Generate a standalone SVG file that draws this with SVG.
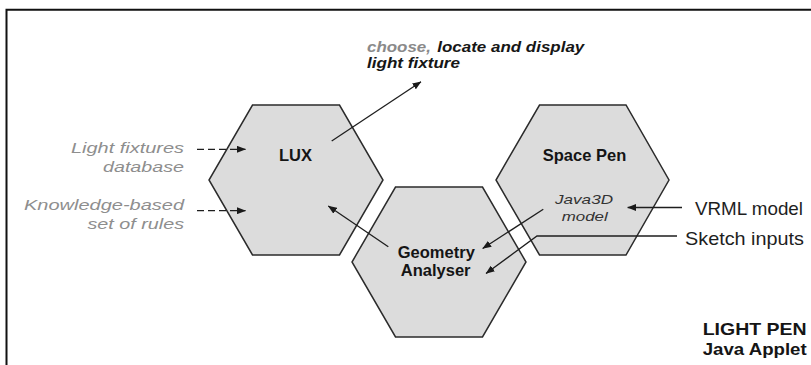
<svg xmlns="http://www.w3.org/2000/svg" width="811" height="365" viewBox="0 0 811 365">
  <defs>
    <marker id="arrow" markerUnits="userSpaceOnUse" markerWidth="9" markerHeight="7" refX="8.5" refY="3.5" orient="auto">
      <path d="M0,0 L9,3.5 L0,7 Z" fill="#1a1a1a"/>
    </marker>
  </defs>
  <style>
    .hex { fill: #dcdcdc; stroke: #2b2b2b; stroke-width: 1.5; stroke-linejoin: miter; }
    .title { font-family: "Liberation Sans", Arial, sans-serif; font-weight: bold; font-size: 16.5px; fill: #151515; text-anchor: middle; }
    .note { font-family: "Liberation Sans", Arial, sans-serif; font-style: italic; font-size: 15.5px; fill: #8e8e8e; }
    .inner { font-family: "Liberation Sans", Arial, sans-serif; font-style: italic; font-size: 13.5px; fill: #333333; }
    .plain { font-family: "Liberation Sans", Arial, sans-serif; font-size: 18.5px; fill: #1e1e1e; }
    .task { font-family: "Liberation Sans", Arial, sans-serif; font-style: italic; font-weight: bold; font-size: 15px; fill: #161616; }
    .task-grey { fill: #8a8a8a; }
    .badge { font-family: "Liberation Sans", Arial, sans-serif; font-weight: bold; font-size: 17px; fill: #151515; }
    .link { fill: none; stroke: #1e1e1e; stroke-width: 1.3; }
    .dashed { stroke-dasharray: 7 4; }
  </style>

  <!-- frame -->
  <path d="M6.5,365 V9.7 H811" fill="none" stroke="#111" stroke-width="2"/>

  <!-- applet caption -->
  <g id="applet-label">
    <text class="badge" x="702.7" y="335" textLength="104" lengthAdjust="spacingAndGlyphs">LIGHT PEN</text>
    <text class="badge" x="702.7" y="354.5" textLength="104" lengthAdjust="spacingAndGlyphs">Java Applet</text>
  </g>

  <g id="lux">
    <polygon class="hex" points="252.5,105 339.5,105 383,180 339.5,255 252.5,255 209,180"/>
    <text class="title" x="295.5" y="160.7">LUX</text>
  </g>

  <g id="space-pen">
    <polygon class="hex" points="539.5,105 626,105 669,180 626,255 539.5,255 496,180"/>
    <text class="title" x="584.5" y="160.7">Space Pen</text>
    <text class="inner" x="555" y="204" textLength="58" lengthAdjust="spacingAndGlyphs">Java3D</text>
    <text class="inner" x="561.7" y="220.7" textLength="46" lengthAdjust="spacingAndGlyphs">model</text>
  </g>

  <g id="geometry-analyser">
    <polygon class="hex" points="395.5,187 482.5,187 526,262 482.5,337 395.5,337 352,262"/>
    <text class="title" x="436.3" y="258">Geometry</text>
    <text class="title" x="435.7" y="275.5">Analyser</text>
  </g>

  <g id="task-label">
    <text class="task task-grey" x="367" y="52" textLength="64" lengthAdjust="spacingAndGlyphs">choose,</text>
    <text class="task" x="437.3" y="52" textLength="147" lengthAdjust="spacingAndGlyphs">locate and display</text>
    <text class="task" x="367" y="68" textLength="93" lengthAdjust="spacingAndGlyphs">light fixture</text>
  </g>

  <g id="fixtures-db">
    <text class="note" x="71" y="153" textLength="113" lengthAdjust="spacingAndGlyphs">Light fixtures</text>
    <text class="note" x="103" y="172" textLength="81" lengthAdjust="spacingAndGlyphs">database</text>
  </g>

  <g id="rules">
    <text class="note" x="24" y="210" textLength="160" lengthAdjust="spacingAndGlyphs">Knowledge-based</text>
    <text class="note" x="87.5" y="229" textLength="96.5" lengthAdjust="spacingAndGlyphs">set of rules</text>
  </g>

  <g id="vrml-input">
    <text class="plain" x="695" y="215" textLength="108" lengthAdjust="spacingAndGlyphs">VRML model</text>
  </g>

  <g id="sketch-input">
    <text class="plain" x="685" y="245" textLength="119" lengthAdjust="spacingAndGlyphs">Sketch inputs</text>
  </g>

  <g id="connectors">
    <line class="link dashed" x1="197" y1="149.3" x2="245.5" y2="149.3" marker-end="url(#arrow)"/>
    <line class="link dashed" x1="197" y1="210.7" x2="245.5" y2="210.7" marker-end="url(#arrow)"/>
    <line class="link" x1="331.7" y1="141" x2="421" y2="81.7" marker-end="url(#arrow)"/>
    <line class="link" x1="388.3" y1="246.7" x2="328.3" y2="206" marker-end="url(#arrow)"/>
    <line class="link" x1="543.3" y1="209.3" x2="482.7" y2="248.5" marker-end="url(#arrow)"/>
    <polyline class="link" points="677,236 537,236 486,273.5" marker-end="url(#arrow)"/>
    <line class="link" x1="682" y1="207.5" x2="627.7" y2="207.5" marker-end="url(#arrow)"/>
  </g>
</svg>
